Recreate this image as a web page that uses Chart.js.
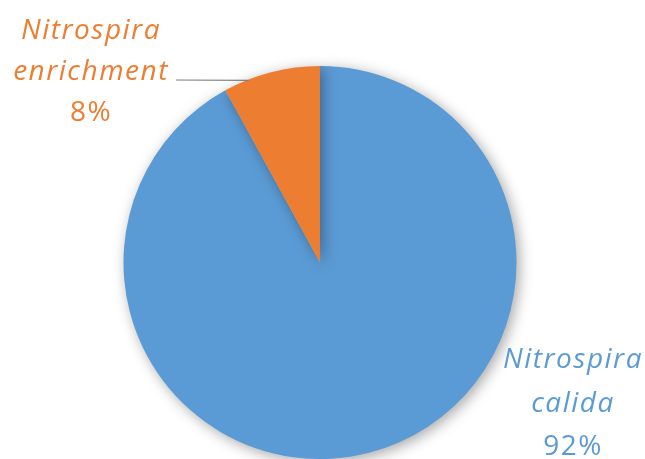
<!DOCTYPE html>
<html>
<head>
<meta charset="utf-8">
<script src="https://cdn.jsdelivr.net/npm/chart.js@4"></script>
<style>
  html, body { margin: 0; padding: 0; background: #fff; }
  #wrap { width: 645px; height: 459px; position: relative; }
</style>
</head>
<body>
<div id="wrap"><canvas id="pieChart"></canvas></div>
<script>
// chart data
const categories = ['Nitrospira calida', 'Nitrospira enrichment'];
const shares = [92, 8];
const colors = ['#5B9BD5', '#ED7D31'];

// soft shadow under the pie
const shadowPlugin = {
    id: 'pieShadow',
    beforeDatasetsDraw(chart) {
        const c = chart.ctx;
        c.save();
        c.shadowColor = 'rgba(0,0,0,0.35)';
        c.shadowBlur = 14;
        c.shadowOffsetX = 3;
        c.shadowOffsetY = 3;
    },
    afterDatasetsDraw(chart) {
        chart.ctx.restore();
    }
};

// slice labels in the Excel style
const labelPlugin = {
    id: 'sliceLabels',
    afterDraw(chart) {
        const c = chart.ctx;
        const arcs = chart.getDatasetMeta(0).data;
        const font = '"Open Sans", sans-serif';
        c.save();
        c.textAlign = 'center';
        c.textBaseline = 'alphabetic';
        c.letterSpacing = '1.5px';

        // orange one, with leader line
        const a = arcs[1];
        const mid = (a.startAngle + a.endAngle) / 2 - 0.12;
        const ex = a.x + a.outerRadius * Math.cos(mid);
        const ey = a.y + a.outerRadius * Math.sin(mid);
        c.strokeStyle = '#7f7f7f';
        c.lineWidth = 1.2;
        c.beginPath();
        c.moveTo(176, 80);
        c.lineTo(ex, ey + 1);
        c.stroke();

        c.fillStyle = colors[1];
        c.font = 'italic 28px ' + font;
        c.fillText('Nitrospira', 91, 39);
        c.fillText('enrichment', 91, 80);
        c.font = '28px ' + font;
        c.fillText(shares[1] + '%', 91, 121);

        // blue one
        c.fillStyle = colors[0];
        c.font = 'italic 28px ' + font;
        c.fillText('Nitrospira', 573, 368);
        c.fillText('calida', 573, 412);
        c.font = '28px ' + font;
        c.fillText(shares[0] + '%', 573, 455);
        c.restore();
    }
};

const ctx = document.getElementById('pieChart').getContext('2d');
const pieChart = new Chart(ctx, {
    type: 'pie',
    data: {
        labels: categories,
        datasets: [{
            data: shares,
            backgroundColor: colors,
            borderWidth: 0
        }]
    },
    options: {
        responsive: true,
        maintainAspectRatio: false,
        animation: false,
        layout: { padding: { top: 66, bottom: 0, left: 123, right: 128 } },
        plugins: {
            legend: { display: false },
            tooltip: { enabled: false }
        }
    },
    plugins: [shadowPlugin, labelPlugin]
});
</script>
</body>
</html>
